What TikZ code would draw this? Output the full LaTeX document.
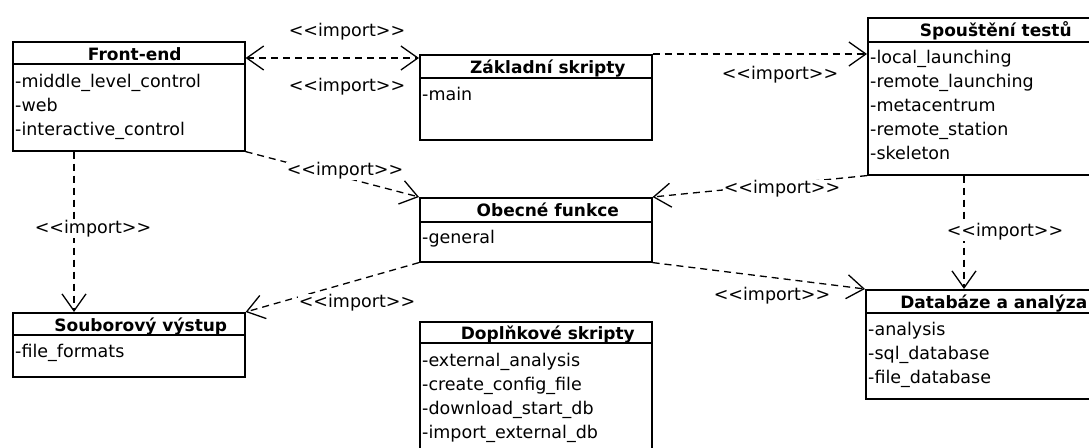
\documentclass[tikz,border=0pt]{standalone}
\usepackage{fontspec}
\setmainfont{DejaVu Sans}
\usetikzlibrary{arrows.meta}

\begin{document}
\begin{tikzpicture}[x=1pt,y=-1pt,>={Straight Barb[length=17pt,width=24pt]}]
  \tikzstyle{every node}=[font=\fontsize{17.5}{24}\selectfont,inner sep=0pt]
  \tikzstyle{cls}=[draw,line width=1.6pt,anchor=north west,minimum width=232pt]
  \tikzstyle{sep}=[line width=1.6pt]
  \tikzstyle{ttl}=[anchor=base,font=\fontsize{17}{24}\selectfont\bfseries]
  \tikzstyle{itm}=[anchor=base west]
  \tikzstyle{imp}=[dash pattern=on 7pt off 5pt,line width=1.3pt,->]
  \tikzstyle{lbl}=[fill=white,inner sep=1pt]
  \useasboundingbox (0,0) rectangle (1089,447);
  \clip (0,0) rectangle (1089,447);
  \fill[white] (0,0) rectangle (1089,447);
  % classes
  \node[cls,minimum height=109pt] (front) at (12,41) {};
  \draw[sep] ([yshift=-23pt]front.north west) -- ([yshift=-23pt]front.north east);
  \node[ttl] (front-t) at ([xshift=6pt,yshift=-19pt]front.north) {Front-end};
  \foreach \s [count=\i] in {-middle\_level\_control,-web,-interactive\_control}
    \node[itm] (front-\i) at ([xshift=3pt,yshift={-46pt-24pt*(\i-1)}]front.north west) {\s};

  \node[cls,minimum height=85pt] (zakl) at (419,54) {};
  \draw[sep] ([yshift=-24pt]zakl.north west) -- ([yshift=-24pt]zakl.north east);
  \node[ttl] (zakl-t) at ([xshift=12pt,yshift=-19pt]zakl.north) {Základní skripty};
  \node[itm] (zakl-1) at ([xshift=3pt,yshift=-46pt]zakl.north west) {-main};

  \node[cls,minimum height=157pt] (spous) at (867,17) {};
  \draw[sep] ([yshift=-25pt]spous.north west) -- ([yshift=-25pt]spous.north east);
  \node[ttl] (spous-t) at ([xshift=12pt,yshift=-19pt]spous.north) {Spouštění testů};
  \foreach \s [count=\i] in {-local\_launching,-remote\_launching,-metacentrum,-remote\_station,-skeleton}
    \node[itm] (spous-\i) at ([xshift=3pt,yshift={-46pt-24pt*(\i-1)}]spous.north west) {\s};

  \node[cls,minimum height=64pt] (obec) at (419,197) {};
  \draw[sep] ([yshift=-25pt]obec.north west) -- ([yshift=-25pt]obec.north east);
  \node[ttl] (obec-t) at ([xshift=12pt,yshift=-19pt]obec.north) {Obecné funkce};
  \node[itm] (obec-1) at ([xshift=3pt,yshift=-46pt]obec.north west) {-general};

  \node[cls,minimum height=64pt] (soub) at (12,312) {};
  \draw[sep] ([yshift=-23pt]soub.north west) -- ([yshift=-23pt]soub.north east);
  \node[ttl] (soub-t) at ([xshift=12pt,yshift=-19pt]soub.north) {Souborový výstup};
  \node[itm] (soub-1) at ([xshift=3pt,yshift=-45pt]soub.north west) {-file\_formats};

  \node[cls,minimum height=140pt] (dopl) at (419,321) {};
  \draw[sep] ([yshift=-22pt]dopl.north west) -- ([yshift=-22pt]dopl.north east);
  \node[ttl] (dopl-t) at ([xshift=12pt,yshift=-18pt]dopl.north) {Doplňkové skripty};
  \foreach \s [count=\i] in {-external\_analysis,-create\_config\_file,-download\_start\_db,-import\_external\_db}
    \node[itm] (dopl-\i) at ([xshift=3pt,yshift={-45pt-24pt*(\i-1)}]dopl.north west) {\s};

  \node[cls,minimum height=109pt] (datab) at (865,289) {};
  \draw[sep] ([yshift=-24pt]datab.north west) -- ([yshift=-24pt]datab.north east);
  \node[ttl] (datab-t) at ([xshift=12pt,yshift=-19pt]datab.north) {Databáze a analýza};
  \foreach \s [count=\i] in {-analysis,-sql\_database,-file\_database}
    \node[itm] (datab-\i) at ([xshift=3pt,yshift={-46pt-24pt*(\i-1)}]datab.north west) {\s};

  % imports
  \draw[imp,<->] ([yshift=-17pt]front.north east) -- ([yshift=-4pt]zakl.north west);
  \draw[imp] (zakl.north east) -- ([yshift=-37pt]spous.north west);
  \draw[imp] (front.south east) -- (obec.north west);
  \draw[imp] ([xshift=62pt]front.south west) -- ([xshift=62pt]soub.north west);
  \draw[imp] (obec.south west) -- (soub.north east);
  \draw[imp] (spous.south west) -- (obec.north east);
  \draw[imp] ([xshift=97pt]spous.south west) -- ([xshift=99pt]datab.north west);
  \draw[imp] (obec.south east) -- (datab.north west);

  \node[lbl] (imp-a) at (347,32) {<\kern0pt<import>\kern0pt>};
  \node[lbl] (imp-b) at (347,87) {<\kern0pt<import>\kern0pt>};
  \node[lbl] (imp-c) at (780,75) {<\kern0pt<import>\kern0pt>};
  \node[lbl] (imp-d) at (345,171) {<\kern0pt<import>\kern0pt>};
  \node[lbl] (imp-e) at (93,229) {<\kern0pt<import>\kern0pt>};
  \node[lbl] (imp-f) at (357,303) {<\kern0pt<import>\kern0pt>};
  \node[lbl] (imp-g) at (782,189) {<\kern0pt<import>\kern0pt>};
  \node[lbl] (imp-h) at (1005,232) {<\kern0pt<import>\kern0pt>};
  \node[lbl] (imp-i) at (772,296) {<\kern0pt<import>\kern0pt>};
  % \draw[imp] (dopl.north) -- (obec.south);
\end{tikzpicture}
\end{document}
